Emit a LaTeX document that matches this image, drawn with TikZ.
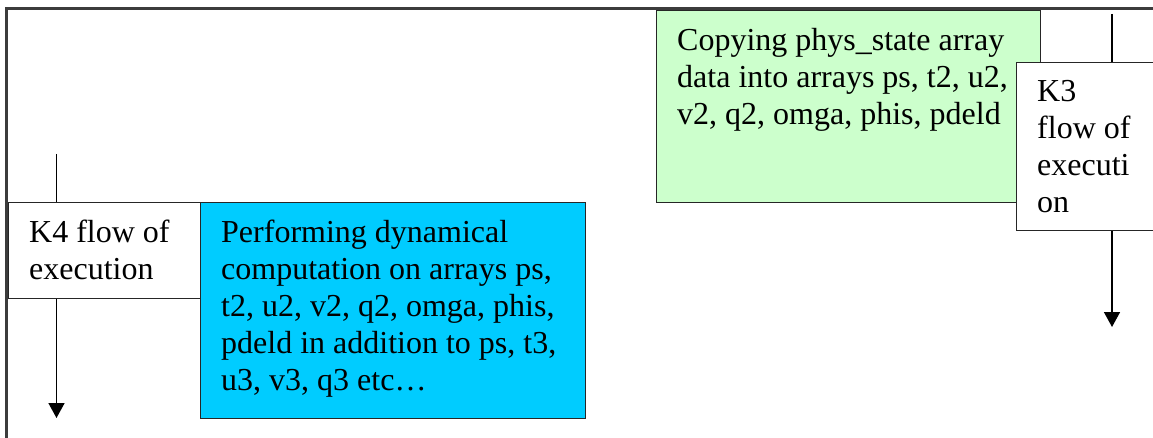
\documentclass[tikz,border=0pt]{standalone}
\usepackage{fontspec}
\setmainfont{Liberation Serif}
\usetikzlibrary{arrows.meta}
\definecolor{dynblue}{HTML}{00CCFF}
\definecolor{copygreen}{HTML}{CCFFCC}
\definecolor{framegray}{HTML}{3C3C3C}
\tikzset{
  box/.style={draw=black!85, line width=1.2pt, rectangle, inner sep=0pt, anchor=north west},
  boxtext/.style={anchor=north west, align=left, inner xsep=21pt, inner ysep=18pt,
    font=\fontsize{32}{37}\selectfont,
    execute at begin node={\spaceskip=0pt\xspaceskip=0pt\relax}},
  flow/.style={draw=black, line width=1.6pt},
  flowarrow/.style={flow, -{Triangle[length=15pt,width=16pt]}},
  frame/.style={draw=framegray, line width=2.5pt}
}
\begin{document}
\begin{tikzpicture}[x=1pt,y=-1pt]
  \useasboundingbox (0,0) rectangle (1153,438);
  \clip (0,0) rectangle (1153,438);
  \fill[white] (0,0) rectangle (1153,438);

  % outer frame (only the left and top edges fall inside the page)
  \draw[frame] (6.5,460) -- (6.5,8.5) -- (1180,8.5);

  % K4 column and its computation box
  \node[box, fill=white, minimum width=192pt, minimum height=96pt] (k4) at (8,202) {};
  \node[boxtext, text width=170pt] (k4t) at (k4.north west) {K4 flow of\\execution};
  \node[box, fill=dynblue, minimum width=385pt, minimum height=216pt] (dyn) at (200,202) {};
  \node[boxtext, text width=362pt] (dynt) at (dyn.north west)
    {Performing dynamical\\computation on arrays ps,\\t2, u2, v2, q2, omga, phis,\\pdeld in addition to ps, t3,\\u3, v3, q3 etc\dots};

  \coordinate (k4in) at (56.5,154);
  \coordinate (k4out) at (56.5,418);
  \draw[flow] (k4in) -- (k4in |- k4.north);
  \draw[flowarrow] (k4in |- k4.south) -- (k4out);

  % K3 column and its copy box
  \node[box, fill=copygreen, minimum width=384pt, minimum height=192pt] (copy) at (656,10) {};
  \node[boxtext, text width=362pt] (copyt) at (copy.north west)
    {Copying phys\_state array\\data into arrays ps, t2, u2,\\v2, q2, omga, phis, pdeld};
  \node[box, fill=white, minimum width=170pt, minimum height=168pt] (k3) at (1016,62) {};
  \node[boxtext, text width=140pt] (k3t) at (k3.north west) {K3\\flow of\\executi\\on};

  \coordinate (k3in) at (1112,14);
  \coordinate (k3out) at (1112,327);
  \draw[flow] (k3in) -- (k3in |- k3.north);
  \draw[flowarrow] (k3in |- k3.south) -- (k3out);
\end{tikzpicture}
\end{document}
